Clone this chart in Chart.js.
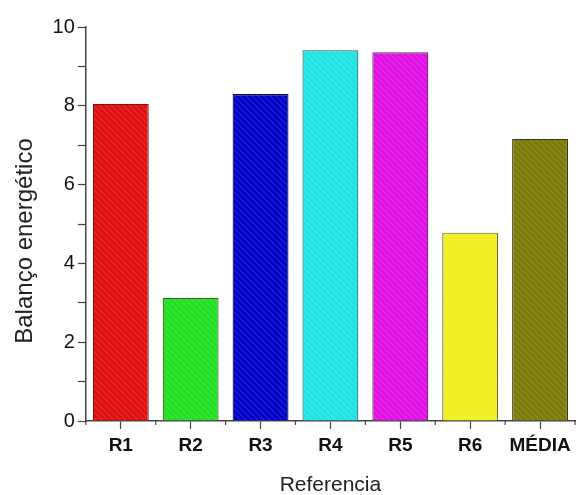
<!DOCTYPE html>
<html>
<head>
<meta charset="utf-8">
<script src="https://cdn.jsdelivr.net/npm/chart.js@4/dist/chart.umd.min.js"></script>
<style>
  html, body { margin: 0; padding: 0; background: #fff; }
  #wrap { width: 576px; height: 495px; }
</style>
</head>
<body>
<div id="wrap"><canvas id="balancoChart"></canvas></div>
<script>
const categories = ["R1", "R2", "R3", "R4", "R5", "R6", "MÉDIA"];
const balanco = [8.05, 3.13, 8.3, 9.41, 9.36, 4.78, 7.16];
const barColors = ["#e01010", "#22e022", "#0000c8", "#20e4e4", "#e010e4", "#f2f020", "#7c7a08"];
const edgeColors = ["#7a1010", "#3a6a2a", "#10104a", "#2a6a6a", "#6a2a6a", "#6a6a2a", "#3a3a10"];
const yTitle = "Balanço energético";

function hatch(color) {
    const c = document.createElement("canvas");
    c.width = 6; c.height = 6;
    const g = c.getContext("2d");
    g.fillStyle = color;
    g.fillRect(0, 0, 6, 6);
    g.strokeStyle = "rgba(255,255,255,0.14)";
    g.lineWidth = 1.2;
    g.beginPath();
    g.moveTo(-1, -1); g.lineTo(7, 7);
    g.moveTo(-1, 5); g.lineTo(1, 7);
    g.moveTo(5, -1); g.lineTo(7, 1);
    g.stroke();
    return g.createPattern(c, "repeat");
}

// minor ticks between categories + y title drawn a bit below centre
const extras = {
    id: "extras",
    afterDraw(chart) {
        const x = chart.scales.x;
        const y = chart.scales.y;
        const ctx = chart.ctx;
        ctx.save();
        ctx.strokeStyle = "#444";
        ctx.lineWidth = 1.2;
        for (let i = 0; i <= categories.length; i++) {
            const px = x.getPixelForValue(i - 0.5);
            ctx.beginPath();
            ctx.moveTo(px, x.top);
            ctx.lineTo(px, x.top + 4);
            ctx.stroke();
        }
        ctx.translate(y.left + 13, (chart.chartArea.top + chart.chartArea.bottom) / 2 + 17);
        ctx.rotate(-Math.PI / 2);
        ctx.fillStyle = "#222";
        ctx.font = "24px 'Liberation Sans'";
        ctx.textAlign = "center";
        ctx.textBaseline = "middle";
        ctx.fillText(yTitle, 0, 0);
        ctx.restore();
    },
};

new Chart(document.getElementById("balancoChart"), {
    type: "bar",
    data: {
        labels: categories,
        datasets: [
            {
                data: balanco,
                backgroundColor: barColors.map(hatch),
                borderColor: edgeColors,
                borderWidth: 1.2,
                categoryPercentage: 1,
                barPercentage: 0.8,
            },
        ],
    },
    options: {
        responsive: true,
        maintainAspectRatio: false,
        animation: false,
        layout: { padding: { top: 27, right: 1, left: 12, bottom: 0 } },
        plugins: {
            legend: { display: false },
            tooltip: { enabled: false },
        },
        scales: {
            x: {
                border: { color: "#444", width: 1.5 },
                grid: { display: true, offset: false, drawOnChartArea: false, tickLength: 8, tickColor: "#444", tickWidth: 1.2 },
                ticks: {
                    color: "#111",
                    padding: 5,
                    font: { family: "Liberation Sans", size: 19, weight: "bold" },
                },
                title: {
                    display: true,
                    text: "Referencia",
                    color: "#222",
                    padding: { top: 11, bottom: -3 },
                    font: { family: "Liberation Sans", size: 21 },
                },
            },
            y: {
                min: 0,
                max: 10,
                border: { color: "#444", width: 1.5 },
                grid: {
                    display: true,
                    drawOnChartArea: false,
                    tickLength: 8,
                    tickColor: "#444",
                    tickWidth: 1.2,
                },
                ticks: {
                    stepSize: 1,
                    color: "#111",
                    padding: 3,
                    font: { family: "Liberation Sans", size: 20 },
                    callback: (v) => (v % 2 === 0 ? v : ""),
                },
                title: {
                    display: true,
                    text: yTitle,
                    color: "rgba(0,0,0,0)",
                    padding: { top: 0, bottom: 10 },
                    font: { family: "Liberation Sans", size: 23 },
                },
            },
        },
    },
    plugins: [extras],
});
</script>
</body>
</html>
